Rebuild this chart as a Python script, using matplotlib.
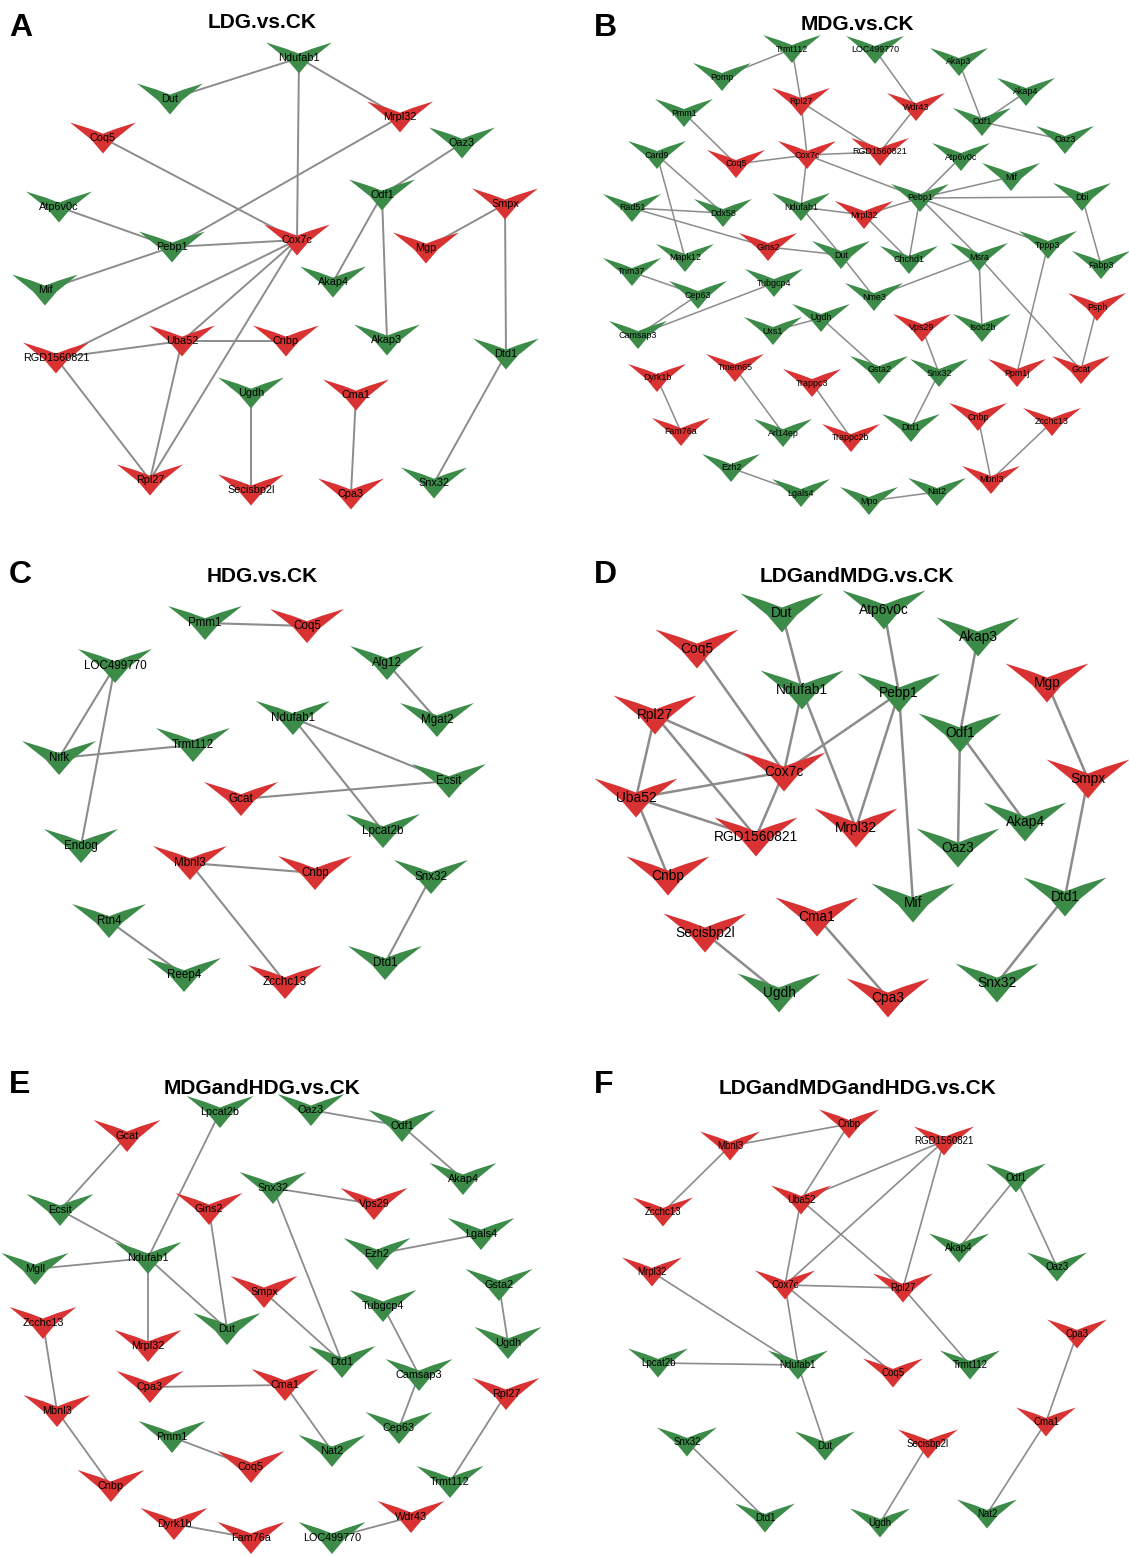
import matplotlib
matplotlib.use("Agg")
import matplotlib.pyplot as plt
from matplotlib.patches import Polygon

plt.rcParams["font.family"] = ["Liberation Sans", "DejaVu Sans"]

UP_COLOR = "#d93232"
DOWN_COLOR = "#3c8b49"
EDGE_COLOR = "#8c8c8c"

# ---- A: LDG.vs.CK ----
a_genes = ["Ndufab1", "Dut", "Mrpl32", "Coq5", "Oaz3", "Odf1", "Smpx", "Atp6v0c",
           "Cox7c", "Pebp1", "Mgp", "Mif", "Akap4", "Uba52", "Cnbp", "Akap3",
           "RGD1560821", "Dtd1", "Ugdh", "Cma1", "Rpl27", "Secisbp2l", "Cpa3", "Snx32"]
a_x = [299, 170, 400, 103, 462, 382, 505, 59, 297, 172, 426, 45, 333, 182, 286, 387,
       56, 506, 251, 356, 150, 251, 351, 434]
a_y = [58, 99, 117, 138, 143, 195, 204, 207, 240, 247, 248, 290, 282, 341, 341, 340,
       358, 354, 393, 395, 480, 490, 494, 483]
a_up = ["Mrpl32", "Coq5", "Smpx", "Cox7c", "Mgp", "Uba52", "Cnbp", "RGD1560821",
        "Cma1", "Rpl27", "Secisbp2l", "Cpa3"]
a_edges = [("Ndufab1", "Dut"), ("Ndufab1", "Mrpl32"), ("Ndufab1", "Cox7c"),
           ("Mrpl32", "Pebp1"), ("Oaz3", "Odf1"), ("Coq5", "Cox7c"),
           ("Atp6v0c", "Pebp1"), ("Pebp1", "Cox7c"), ("Pebp1", "Mif"),
           ("Smpx", "Mgp"), ("Smpx", "Dtd1"), ("Odf1", "Akap4"), ("Odf1", "Akap3"),
           ("Cox7c", "RGD1560821"), ("Cox7c", "Uba52"), ("Cox7c", "Rpl27"),
           ("RGD1560821", "Uba52"), ("Uba52", "Cnbp"), ("RGD1560821", "Rpl27"),
           ("Uba52", "Rpl27"), ("Ugdh", "Secisbp2l"), ("Cma1", "Cpa3"),
           ("Dtd1", "Snx32")]

# ---- B: MDG.vs.CK ----
b_genes = ["Trmt112", "LOC499770", "Pomp", "Akap3", "Akap4", "Rpl27", "Wdr43", "Pmm1",
           "Odf1", "Oaz3", "Card9", "Coq5", "Cox7c", "RGD1560821", "Atp6v0c", "Mif",
           "Pebp1", "Dbi", "Rad51", "Ddx58", "Ndufab1", "Mrpl32", "Gins2", "Dut",
           "Chchd1", "Msra", "Tppp3", "Fabp3", "Mapk12", "Trim37", "Cep63", "Tubgcp4",
           "Nme3", "Camsap3", "Uxs1", "Ugdh", "Vps29", "Isoc2b", "Psph", "Dyrk1b",
           "Tmem65", "Trappc3", "Gsta2", "Snx32", "Ppm1j", "Gcat", "Fam76a", "Arl14ep",
           "Trappc2b", "Dtd1", "Cnbp", "Zcchc13", "Ezh2", "Lgals4", "Mpo", "Nat2", "Mbnl3"]
b_x = [227, 310, 157, 394, 461, 236, 351, 119, 417, 500, 92, 171, 242, 315, 396, 446,
       355, 517, 67, 158, 236, 299, 203, 276, 344, 414, 483, 536, 120, 67, 133, 209,
       309, 73, 208, 256, 357, 417, 532, 92, 170, 247, 314, 374, 452, 516, 116, 218,
       286, 346, 413, 487, 166, 236, 304, 372, 426]
b_y = [49, 50, 77, 62, 92, 102, 107, 113, 122, 140, 155, 164, 155, 152, 157, 177,
       198, 197, 208, 213, 207, 215, 247, 255, 260, 257, 245, 265, 258, 272, 295, 283,
       297, 335, 331, 318, 328, 328, 307, 378, 368, 383, 370, 373, 373, 370, 432, 433,
       438, 428, 417, 422, 468, 493, 501, 492, 480]
b_up = ["Rpl27", "Wdr43", "Coq5", "Cox7c", "RGD1560821", "Mrpl32", "Gins2", "Vps29",
        "Psph", "Dyrk1b", "Tmem65", "Trappc3", "Ppm1j", "Gcat", "Fam76a", "Trappc2b",
        "Cnbp", "Zcchc13", "Mbnl3"]
b_edges = [("Trmt112", "Pomp"), ("Trmt112", "Rpl27"), ("LOC499770", "Wdr43"),
           ("Akap3", "Odf1"), ("Akap4", "Odf1"), ("Odf1", "Oaz3"),
           ("Rpl27", "Cox7c"), ("Rpl27", "RGD1560821"), ("Wdr43", "RGD1560821"),
           ("Pmm1", "Coq5"), ("Coq5", "Cox7c"), ("Cox7c", "RGD1560821"),
           ("Cox7c", "Ndufab1"), ("Cox7c", "Pebp1"), ("Atp6v0c", "Pebp1"),
           ("Mif", "Pebp1"), ("Pebp1", "Dbi"), ("Pebp1", "Mrpl32"),
           ("Pebp1", "Chchd1"), ("Pebp1", "Msra"), ("Pebp1", "Tppp3"),
           ("Dbi", "Fabp3"), ("Card9", "Ddx58"), ("Card9", "Mapk12"),
           ("Rad51", "Ddx58"), ("Rad51", "Gins2"), ("Ndufab1", "Mrpl32"),
           ("Ndufab1", "Dut"), ("Mrpl32", "Chchd1"), ("Gins2", "Dut"),
           ("Dut", "Nme3"), ("Msra", "Nme3"), ("Msra", "Isoc2b"), ("Msra", "Gcat"),
           ("Tppp3", "Ppm1j"), ("Psph", "Gcat"), ("Trim37", "Cep63"),
           ("Cep63", "Camsap3"), ("Tubgcp4", "Camsap3"), ("Uxs1", "Ugdh"),
           ("Ugdh", "Gsta2"), ("Vps29", "Snx32"), ("Snx32", "Dtd1"),
           ("Dyrk1b", "Fam76a"), ("Tmem65", "Arl14ep"), ("Trappc3", "Trappc2b"),
           ("Cnbp", "Mbnl3"), ("Zcchc13", "Mbnl3"), ("Ezh2", "Lgals4"),
           ("Mpo", "Nat2")]

# ---- C: HDG.vs.CK ----
c_genes = ["Pmm1", "Coq5", "LOC499770", "Alg12", "Ndufab1", "Mgat2", "Nifk", "Trmt112",
           "Ecsit", "Gcat", "Lpcat2b", "Endog", "Mbnl3", "Cnbp", "Snx32", "Rtn4",
           "Reep4", "Zcchc13", "Dtd1"]
c_x = [205, 307, 115, 387, 293, 437, 59, 193, 449, 241, 383, 81, 190, 315, 431, 109,
       184, 285, 385]
c_y = [103, 106, 146, 143, 198, 200, 238, 225, 261, 279, 311, 326, 343, 353, 357, 401,
       455, 462, 443]
c_up = ["Coq5", "Gcat", "Mbnl3", "Cnbp", "Zcchc13"]
c_edges = [("Pmm1", "Coq5"), ("LOC499770", "Nifk"), ("LOC499770", "Endog"),
           ("Alg12", "Mgat2"), ("Nifk", "Trmt112"), ("Ndufab1", "Ecsit"),
           ("Ndufab1", "Lpcat2b"), ("Gcat", "Ecsit"), ("Mbnl3", "Cnbp"),
           ("Mbnl3", "Zcchc13"), ("Snx32", "Dtd1"), ("Rtn4", "Reep4")]

# ---- D: LDGandMDG.vs.CK ----
d_genes = ["Dut", "Atp6v0c", "Coq5", "Akap3", "Mgp", "Ndufab1", "Pebp1", "Rpl27",
           "Odf1", "Cox7c", "Smpx", "Uba52", "RGD1560821", "Mrpl32", "Akap4", "Oaz3",
           "Cnbp", "Mif", "Dtd1", "Cma1", "Secisbp2l", "Ugdh", "Cpa3", "Snx32"]
d_x = [217, 319, 132, 413, 482, 237, 334, 90, 395, 219, 523, 71, 191, 291, 460, 393,
       103, 348, 500, 252, 140, 214, 323, 432]
d_y = [93, 90, 129, 117, 163, 170, 173, 195, 213, 252, 259, 278, 317, 308, 302, 328,
       356, 383, 377, 397, 413, 473, 478, 463]
d_up = ["Coq5", "Mgp", "Rpl27", "Cox7c", "Smpx", "Uba52", "RGD1560821", "Mrpl32",
        "Cnbp", "Cma1", "Secisbp2l", "Cpa3"]
d_edges = [("Dut", "Ndufab1"), ("Atp6v0c", "Pebp1"), ("Coq5", "Cox7c"),
           ("Akap3", "Odf1"), ("Mgp", "Smpx"), ("Ndufab1", "Cox7c"),
           ("Ndufab1", "Mrpl32"), ("Pebp1", "Cox7c"), ("Pebp1", "Mrpl32"),
           ("Pebp1", "Mif"), ("Rpl27", "Cox7c"), ("Rpl27", "RGD1560821"),
           ("Rpl27", "Uba52"), ("Odf1", "Oaz3"), ("Odf1", "Akap4"),
           ("Cox7c", "Uba52"), ("Cox7c", "RGD1560821"), ("Uba52", "RGD1560821"),
           ("Uba52", "Cnbp"), ("Smpx", "Dtd1"), ("Dtd1", "Snx32"), ("Cma1", "Cpa3"),
           ("Secisbp2l", "Ugdh")]

# ---- E: MDGandHDG.vs.CK ----
e_genes = ["Lpcat2b", "Oaz3", "Gcat", "Odf1", "Akap4", "Snx32", "Vps29", "Gins2",
           "Ecsit", "Lgals4", "Ezh2", "Ndufab1", "Mgll", "Gsta2", "Smpx", "Tubgcp4",
           "Zcchc13", "Dut", "Mrpl32", "Ugdh", "Dtd1", "Camsap3", "Cpa3", "Cma1",
           "Rpl27", "Mbnl3", "Cep63", "Pmm1", "Nat2", "Coq5", "Cnbp", "Trmt112",
           "Wdr43", "Dyrk1b", "Fam76a", "LOC499770"]
e_x = [220, 311, 127, 402, 463, 273, 374, 209, 60, 481, 377, 148, 35, 499, 264, 383,
       43, 227, 148, 508, 342, 419, 150, 285, 506, 57, 399, 172, 332, 251, 111, 450,
       411, 174, 251, 332]
e_y = [82, 80, 106, 96, 149, 158, 174, 179, 180, 204, 224, 228, 239, 255, 262, 276,
       293, 299, 316, 313, 332, 345, 357, 355, 364, 381, 398, 407, 421, 437, 456, 452,
       487, 494, 508, 508]
e_up = ["Gcat", "Vps29", "Gins2", "Smpx", "Zcchc13", "Mrpl32", "Cpa3", "Cma1", "Rpl27",
        "Mbnl3", "Coq5", "Cnbp", "Wdr43", "Dyrk1b", "Fam76a"]
e_edges = [("Lpcat2b", "Ndufab1"), ("Oaz3", "Odf1"), ("Odf1", "Akap4"),
           ("Gcat", "Ecsit"), ("Ecsit", "Ndufab1"), ("Snx32", "Vps29"),
           ("Snx32", "Dtd1"), ("Gins2", "Dut"), ("Ezh2", "Lgals4"),
           ("Ndufab1", "Mgll"), ("Ndufab1", "Mrpl32"), ("Ndufab1", "Dut"),
           ("Gsta2", "Ugdh"), ("Smpx", "Dtd1"), ("Tubgcp4", "Camsap3"),
           ("Camsap3", "Cep63"), ("Zcchc13", "Mbnl3"), ("Mbnl3", "Cnbp"),
           ("Cpa3", "Cma1"), ("Cma1", "Nat2"), ("Rpl27", "Trmt112"),
           ("Pmm1", "Coq5"), ("Wdr43", "LOC499770"), ("Dyrk1b", "Fam76a")]

# ---- F: LDGandMDGandHDG.vs.CK ----
f_genes = ["Cnbp", "Mbnl3", "RGD1560821", "Odf1", "Uba52", "Zcchc13", "Akap4", "Oaz3",
           "Mrpl32", "Cox7c", "Rpl27", "Cpa3", "Lpcat2b", "Ndufab1", "Coq5", "Trmt112",
           "Cma1", "Snx32", "Dut", "Secisbp2l", "Dtd1", "Ugdh", "Nat2"]
f_x = [284, 165, 379, 451, 236, 98, 394, 492, 87, 220, 338, 512, 93, 233, 328, 405,
       481, 122, 260, 363, 200, 315, 422]
f_y = [94, 116, 111, 148, 170, 182, 218, 237, 242, 255, 258, 304, 333, 335, 343, 335,
       392, 412, 416, 414, 488, 493, 484]
f_up = ["Cnbp", "Mbnl3", "RGD1560821", "Uba52", "Zcchc13", "Mrpl32", "Cox7c", "Rpl27",
        "Cpa3", "Coq5", "Cma1", "Secisbp2l"]
f_edges = [("Cnbp", "Mbnl3"), ("Cnbp", "Uba52"), ("Mbnl3", "Zcchc13"),
           ("RGD1560821", "Uba52"), ("RGD1560821", "Cox7c"), ("RGD1560821", "Rpl27"),
           ("Odf1", "Akap4"), ("Odf1", "Oaz3"), ("Uba52", "Cox7c"), ("Uba52", "Rpl27"),
           ("Cox7c", "Rpl27"), ("Mrpl32", "Ndufab1"), ("Cox7c", "Ndufab1"),
           ("Cox7c", "Coq5"), ("Rpl27", "Trmt112"), ("Lpcat2b", "Ndufab1"),
           ("Ndufab1", "Dut"), ("Cpa3", "Cma1"), ("Cma1", "Nat2"), ("Snx32", "Dtd1"),
           ("Secisbp2l", "Ugdh")]

FIG_W, FIG_H = 1129, 1556

# letter, title, panel box in pixels, data, node size, label size, edge width,
# title centre (x, y) and letter y, all in panel pixels
panels = [
    ("A", "LDG.vs.CK", (0, 0, 565, 520), (a_genes, a_x, a_y, a_up, a_edges),
     (66, 31), 7.8, 1.4, (262, 23, 28)),
    ("B", "MDG.vs.CK", (565, 0, 564, 520), (b_genes, b_x, b_y, b_up, b_edges),
     (58, 28), 6.4, 1.1, (292, 24, 28)),
    ("C", "HDG.vs.CK", (0, 520, 565, 510), (c_genes, c_x, c_y, c_up, c_edges),
     (74, 34), 8.4, 1.5, (262, 56, 55)),
    ("D", "LDGandMDG.vs.CK", (565, 520, 564, 510), (d_genes, d_x, d_y, d_up, d_edges),
     (83, 39), 9.9, 1.8, (292, 56, 55)),
    ("E", "MDGandHDG.vs.CK", (0, 1030, 565, 526), (e_genes, e_x, e_y, e_up, e_edges),
     (67, 32), 7.8, 1.3, (262, 59, 55)),
    ("F", "LDGandMDGandHDG.vs.CK", (565, 1030, 564, 526),
     (f_genes, f_x, f_y, f_up, f_edges), (60, 29), 7.0, 1.2, (292, 59, 55)),
]


def v_node(ax, x, y, w, h, color):
    # arrowhead "V" pointing down, notched on the top edge
    top = y - h / 2
    verts = [(x - w / 2, top), (x - w * 0.2, top + 0.2 * h), (x, top + 0.36 * h),
             (x + w * 0.2, top + 0.2 * h), (x + w / 2, top),
             (x + w * 0.18, y + 0.05 * h), (x, y + h / 2),
             (x - w * 0.18, y + 0.05 * h)]
    ax.add_patch(Polygon(verts, closed=True, fc=color, ec="none", zorder=2,
                         clip_on=False))


def draw_network(ax, genes, xs, ys, up, edges, size, fontsize, lw):
    pos = {g: (x, y) for g, x, y in zip(genes, xs, ys)}
    for g1, g2 in edges:
        (x1, y1), (x2, y2) = pos[g1], pos[g2]
        ax.plot([x1, x2], [y1, y2], color=EDGE_COLOR, lw=lw, zorder=1,
                solid_capstyle="butt", clip_on=False)
    w, h = size
    for g, x, y in zip(genes, xs, ys):
        v_node(ax, x, y, w, h, UP_COLOR if g in up else DOWN_COLOR)
        ax.text(x, y, g, ha="center", va="center", fontsize=fontsize,
                color="black", zorder=3)


fig = plt.figure(figsize=(FIG_W / 100, FIG_H / 100), dpi=100)
for letter, title, (px, py, pw, ph), data, size, fs, lw, (tx, ty, ly) in panels:
    ax = fig.add_axes([px / FIG_W, 1 - (py + ph) / FIG_H, pw / FIG_W, ph / FIG_H])
    ax.set_xlim(0, pw)
    ax.set_ylim(ph, 0)
    ax.axis("off")
    draw_network(ax, *data, size, fs, lw)
    ax.text(tx, ty, title, ha="center", va="center", fontsize=15,
            fontweight="bold", zorder=4)
    lx = 9 if px == 0 else 29
    ax.text(lx, ly, letter, ha="left", va="center", fontsize=23,
            fontweight="bold", zorder=4)

fig.savefig("out.png", dpi=100)
